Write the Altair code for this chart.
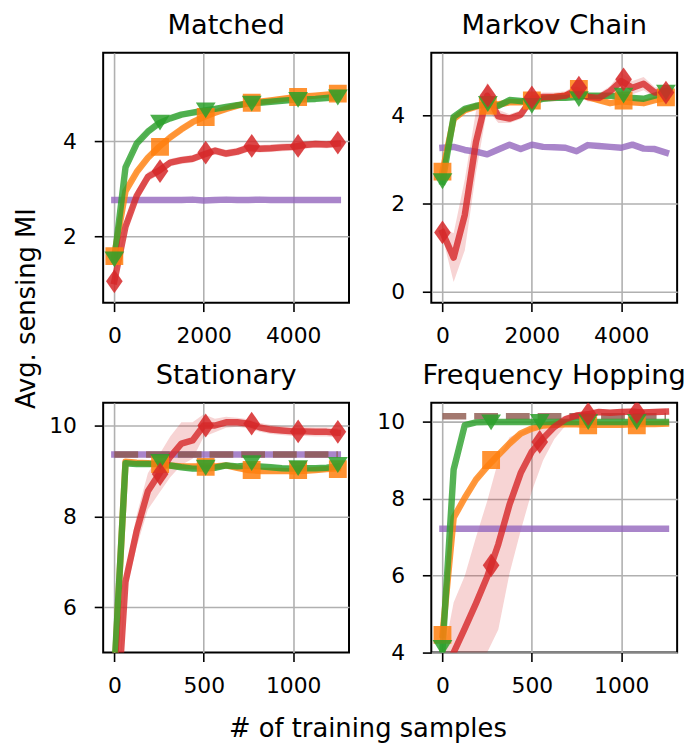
import altair as alt
import pandas as pd

FONT = "DejaVu Sans"
ORANGE = "#ff7f0e"
GREEN = "#2ca02c"
RED = "#d62728"
PURPLE = "#9467bd"
BROWN = "#8c564b"

Y_LABEL = "Avg. sensing MI"
X_LABEL = "# of training samples"
TITLES = ["Matched", "Markov Chain", "Stationary", "Frequency Hopping"]

# ---------------- x samples ----------------
X_TOP = [0, 250, 500, 750, 1000, 1250, 1500, 1750, 2000, 2250, 2500,
         2750, 3000, 3250, 3500, 3750, 4000, 4250, 4500, 4750, 5000]
X_BOT = [0, 62.5, 125, 187.5, 250, 312.5, 375, 437.5, 500, 562.5, 625,
         687.5, 750, 812.5, 875, 937.5, 1000, 1062.5, 1125, 1187.5, 1250]

# ---------------- Matched ----------------
M_ORANGE = [1.60, 2.95, 3.35, 3.65, 3.88, 4.08, 4.25, 4.40, 4.51, 4.60, 4.68,
            4.75, 4.80, 4.83, 4.86, 4.89, 4.92, 4.94, 4.96, 4.98, 5.00]
M_GREEN = [1.50, 3.45, 3.95, 4.20, 4.38, 4.48, 4.56, 4.60, 4.64, 4.68, 4.72,
           4.76, 4.79, 4.81, 4.83, 4.85, 4.87, 4.88, 4.89, 4.91, 4.93]
M_RED = [1.05, 2.20, 2.85, 3.25, 3.38, 3.55, 3.60, 3.63, 3.72, 3.80, 3.74,
         3.78, 3.86, 3.84, 3.85, 3.87, 3.88, 3.92, 3.94, 3.93, 3.95]
M_RED_HALF = [0.05, 0.12, 0.12, 0.10, 0.08, 0.08, 0.08, 0.08, 0.08, 0.08, 0.08,
              0.08, 0.08, 0.08, 0.08, 0.08, 0.08, 0.08, 0.08, 0.08, 0.08]
M_PURPLE = [2.76, 2.76, 2.76, 2.76, 2.76, 2.76, 2.76, 2.77, 2.75, 2.76, 2.77,
            2.76, 2.76, 2.77, 2.76, 2.76, 2.76, 2.76, 2.76, 2.76, 2.76]
M_MK_X = [0, 1022, 2044, 3074, 4111, 5000]
M_MK_ORANGE = [1.58, 3.88, 4.51, 4.81, 4.93, 5.00]
M_MK_GREEN = [1.51, 4.39, 4.65, 4.79, 4.87, 4.92]
M_MK_RED = [1.05, 3.37, 3.76, 3.90, 3.90, 3.97]

# ---------------- Markov Chain ----------------
MC_ORANGE = [2.72, 3.92, 4.12, 4.20, 4.28, 4.25, 4.30, 4.30, 4.35, 4.40, 4.42,
             4.45, 4.52, 4.42, 4.35, 4.28, 4.32, 4.30, 4.28, 4.35, 4.40]
MC_GREEN = [2.50, 3.97, 4.15, 4.22, 4.25, 4.22, 4.35, 4.33, 4.30, 4.38, 4.40,
            4.40, 4.42, 4.45, 4.45, 4.45, 4.42, 4.40, 4.38, 4.45, 4.55]
MC_RED = [1.35, 0.78, 1.75, 3.40, 4.45, 3.98, 3.93, 4.02, 4.38, 4.42, 4.42,
          4.45, 4.58, 4.42, 4.40, 4.55, 4.78, 4.63, 4.72, 4.52, 4.52]
MC_RED_HALF = [0.10, 0.55, 0.80, 0.70, 0.30, 0.15, 0.10, 0.10, 0.10, 0.10, 0.10,
               0.10, 0.12, 0.10, 0.10, 0.12, 0.20, 0.15, 0.15, 0.12, 0.10]
MC_PURPLE = [3.27, 3.29, 3.22, 3.18, 3.12, 3.23, 3.34, 3.24, 3.34, 3.29, 3.28,
             3.27, 3.19, 3.33, 3.31, 3.29, 3.27, 3.34, 3.25, 3.24, 3.16]
MC_MK_X = [0, 1015, 2000, 3052, 4052, 5000]
MC_MK_ORANGE = [2.73, 4.22, 4.34, 4.60, 4.34, 4.41]
MC_MK_GREEN = [2.51, 4.26, 4.22, 4.37, 4.45, 4.52]
MC_MK_RED = [1.35, 4.45, 4.41, 4.63, 4.82, 4.52]

# ---------------- Stationary ----------------
S_ORANGE = [4.50, 9.20, 9.18, 9.17, 9.15, 9.12, 9.10, 9.10, 9.10, 9.10, 9.12,
            9.07, 9.02, 9.00, 9.00, 9.00, 8.99, 9.00, 9.02, 9.04, 9.06]
S_GREEN = [4.60, 9.17, 9.15, 9.15, 9.15, 9.12, 9.08, 9.05, 9.05, 9.07, 9.12,
           9.10, 9.12, 9.10, 9.08, 9.06, 9.05, 9.06, 9.06, 9.07, 9.10]
S_RED = [2.70, 6.56, 7.68, 8.55, 8.93, 9.31, 9.60, 9.67, 10.00, 10.00, 10.07,
         10.07, 10.04, 9.96, 9.91, 9.89, 9.87, 9.87, 9.86, 9.86, 9.84]
S_RED_HALF = [0.20, 0.25, 0.35, 0.40, 0.42, 0.45, 0.47, 0.40, 0.25, 0.15, 0.12,
              0.10, 0.10, 0.10, 0.10, 0.10, 0.10, 0.10, 0.10, 0.10, 0.10]
S_PURPLE = [9.36] * 21
S_BROWN = [9.36] * 21
S_MK_X = [256, 511, 768, 1028, 1250]
S_MK_ORANGE = [9.15, 9.09, 9.02, 9.02, 9.04]
S_MK_GREEN = [9.20, 9.07, 9.17, 9.06, 9.13]
S_MK_RED = [8.93, 10.00, 10.04, 9.87, 9.86]

# ---------------- Frequency Hopping ----------------
F_ORANGE = [4.46, 7.51, 8.03, 8.50, 8.84, 9.14, 9.44, 9.70, 9.83, 9.91, 9.93,
            9.94, 9.94, 9.93, 9.93, 9.93, 9.93, 9.94, 9.95, 9.95, 9.96]
F_GREEN = [4.08, 8.76, 9.92, 9.99, 10.00, 10.00, 10.00, 10.00, 10.00, 10.00, 10.00,
           10.00, 10.00, 10.00, 10.00, 10.00, 10.00, 10.00, 10.00, 10.00, 10.00]
F_RED = [3.30, 4.00, 4.63, 5.28, 5.97, 6.82, 7.85, 8.67, 9.23, 9.57, 9.87,
         10.07, 10.17, 10.20, 10.26, 10.24, 10.26, 10.27, 10.25, 10.26, 10.27]
F_RED_LO = [2.80, 3.00, 3.30, 3.60, 4.00, 4.60, 6.06, 7.17, 8.20, 9.00, 9.55,
            9.90, 10.05, 10.12, 10.18, 10.16, 10.18, 10.19, 10.17, 10.18, 10.19]
F_RED_HI = [3.80, 5.30, 6.00, 7.00, 7.94, 9.00, 9.60, 9.74, 9.87, 9.95, 10.05,
            10.17, 10.25, 10.28, 10.34, 10.32, 10.34, 10.35, 10.33, 10.34, 10.35]
F_PURPLE = [7.22] * 21
F_BROWN = [10.15] * 21
F_MK_X_ORANGE = [0, 272, 815, 1087]
F_MK_ORANGE = [4.46, 9.01, 9.91, 9.91]
F_MK_X_GREEN = [0, 272, 544, 815, 1087]
F_MK_GREEN = [4.12, 9.99, 10.00, 10.00, 10.00]
F_MK_X_RED = [272, 544, 815, 1087]
F_MK_RED = [6.27, 9.48, 10.21, 10.26]

SMALL_HALF = [0.06] * 21

DIAMOND = "M0,-1L0.7,0L0,1L-0.7,0Z"
TRI_DOWN = "M-1,-0.8L1,-0.8L0,0.8Z"
PANEL_W = 248
PANEL_H = 252


def line_df(xs, ys):
    return pd.DataFrame({"x": xs, "y": ys})


def band_df(xs, ys, half):
    return pd.DataFrame({"x": xs,
                         "lo": [a - b for a, b in zip(ys, half)],
                         "hi": [a + b for a, b in zip(ys, half)]})


def text_layer(label, x, y, size, angle=0, baseline="alphabetic"):
    kw = dict(align="center", baseline=baseline, fontSize=size, font=FONT,
              color="black")
    if angle:
        kw["angle"] = angle
    return alt.Chart(pd.DataFrame({"t": [label]})).mark_text(**kw).encode(
        text="t:N", x=alt.value(x), y=alt.value(y))


AXIS_COMMON = dict(format="d", title=None, labelFont=FONT, labelFontSize=22,
                   labelColor="black", tickColor="black", tickSize=9,
                   tickWidth=1.6, grid=True, gridColor="#b0b0b0",
                   gridWidth=1.6, gridOpacity=1, domain=False)


def panel(title, xdom, xticks, ydom, yticks, bands, lines, markers, texts=()):
    xsc = alt.Scale(domain=xdom, nice=False, zero=False)
    ysc = alt.Scale(domain=ydom, nice=False, zero=False)
    xax = alt.Axis(values=xticks, labelPadding=14, **AXIS_COMMON)
    yax = alt.Axis(values=yticks, labelPadding=18, labelAlign="right",
                   labelBaseline="middle", **AXIS_COMMON)
    X = alt.X("x:Q", scale=xsc, axis=xax)
    layers = []
    for color, df, op in bands:
        layers.append(
            alt.Chart(df).mark_area(color=color, opacity=op, clip=True).encode(
                x=X, y=alt.Y("lo:Q", scale=ysc, axis=yax), y2="hi:Q"))
    for color, df, dash in lines:
        kw = dict(color=color, strokeWidth=6.5, opacity=0.8, strokeJoin="round",
                  clip=True)
        if dash:
            kw.update(strokeDash=[24, 8], strokeCap="butt")
        else:
            kw.update(strokeCap="square")
        layers.append(alt.Chart(df).mark_line(**kw).encode(
            x=X, y=alt.Y("y:Q", scale=ysc, axis=yax)))
    for color, df, shape, size in markers:
        layers.append(alt.Chart(df).mark_point(
            shape=shape, size=size, filled=True, color=color, opacity=0.85,
            strokeWidth=0, clip=True).encode(
                x=X, y=alt.Y("y:Q", scale=ysc, axis=yax)))
    layers.append(text_layer(title, PANEL_W / 2, -19, 27.5))
    for t in texts:
        layers.append(t)
    return alt.layer(*layers).properties(width=PANEL_W, height=PANEL_H)


ylab = text_layer(Y_LABEL, -90, 258, 26, angle=270, baseline="top")
xlab = text_layer(X_LABEL, 267, 337, 26)

p1 = panel(
    TITLES[0], [-250, 5250], [0, 2000, 4000], [0.6, 5.86], [2, 4],
    bands=[(ORANGE, band_df(X_TOP, M_ORANGE, SMALL_HALF), 0.2),
           (GREEN, band_df(X_TOP, M_GREEN, SMALL_HALF), 0.2),
           (RED, band_df(X_TOP, M_RED, M_RED_HALF), 0.2)],
    lines=[(PURPLE, line_df(X_TOP, M_PURPLE), False),
           (ORANGE, line_df(X_TOP, M_ORANGE), False),
           (GREEN, line_df(X_TOP, M_GREEN), False),
           (RED, line_df(X_TOP, M_RED), False)],
    markers=[(ORANGE, line_df(M_MK_X, M_MK_ORANGE), "square", 324),
             (GREEN, line_df(M_MK_X, M_MK_GREEN), TRI_DOWN, 400),
             (RED, line_df(M_MK_X, M_MK_RED), DIAMOND, 576)],
    texts=[ylab])

p2 = panel(
    TITLES[1], [-250, 5250], [0, 2000, 4000], [-0.24, 5.42], [0, 2, 4],
    bands=[(ORANGE, band_df(X_TOP, MC_ORANGE, SMALL_HALF), 0.2),
           (GREEN, band_df(X_TOP, MC_GREEN, SMALL_HALF), 0.2),
           (RED, band_df(X_TOP, MC_RED, MC_RED_HALF), 0.2)],
    lines=[(PURPLE, line_df(X_TOP, MC_PURPLE), False),
           (ORANGE, line_df(X_TOP, MC_ORANGE), False),
           (GREEN, line_df(X_TOP, MC_GREEN), False),
           (RED, line_df(X_TOP, MC_RED), False)],
    markers=[(ORANGE, line_df(MC_MK_X, MC_MK_ORANGE), "square", 324),
             (GREEN, line_df(MC_MK_X, MC_MK_GREEN), TRI_DOWN, 400),
             (RED, line_df(MC_MK_X, MC_MK_RED), DIAMOND, 576)])

p3 = panel(
    TITLES[2], [-62.5, 1312.5], [0, 500, 1000], [5.0, 10.5], [6, 8, 10],
    bands=[(ORANGE, band_df(X_BOT, S_ORANGE, SMALL_HALF), 0.2),
           (GREEN, band_df(X_BOT, S_GREEN, SMALL_HALF), 0.2),
           (RED, band_df(X_BOT, S_RED, S_RED_HALF), 0.2)],
    lines=[(PURPLE, line_df(X_BOT, S_PURPLE), False),
           (BROWN, line_df(X_BOT, S_BROWN), True),
           (ORANGE, line_df(X_BOT, S_ORANGE), False),
           (GREEN, line_df(X_BOT, S_GREEN), False),
           (RED, line_df(X_BOT, S_RED), False)],
    markers=[(ORANGE, line_df(S_MK_X, S_MK_ORANGE), "square", 324),
             (GREEN, line_df(S_MK_X, S_MK_GREEN), TRI_DOWN, 400),
             (RED, line_df(S_MK_X, S_MK_RED), DIAMOND, 576)],
    texts=[xlab])

p4 = panel(
    TITLES[3], [-62.5, 1312.5], [0, 500, 1000], [4.0, 10.5], [4, 6, 8, 10],
    bands=[(ORANGE, band_df(X_BOT, F_ORANGE, SMALL_HALF), 0.2),
           (GREEN, band_df(X_BOT, F_GREEN, SMALL_HALF), 0.2),
           (RED, pd.DataFrame({"x": X_BOT, "lo": F_RED_LO, "hi": F_RED_HI}), 0.2)],
    lines=[(PURPLE, line_df(X_BOT, F_PURPLE), False),
           (BROWN, line_df(X_BOT, F_BROWN), True),
           (ORANGE, line_df(X_BOT, F_ORANGE), False),
           (GREEN, line_df(X_BOT, F_GREEN), False),
           (RED, line_df(X_BOT, F_RED), False)],
    markers=[(ORANGE, line_df(F_MK_X_ORANGE, F_MK_ORANGE), "square", 324),
             (GREEN, line_df(F_MK_X_GREEN, F_MK_GREEN), TRI_DOWN, 400),
             (RED, line_df(F_MK_X_RED, F_MK_RED), DIAMOND, 576)])

chart = alt.concat(
    p1, p2, p3, p4, columns=2, spacing={"row": 101, "column": 83},
    bounds="flush", padding={"left": 5, "top": 0, "right": 5, "bottom": 0},
    background="white",
).configure_view(stroke="black", strokeWidth=2)

chart.save("out.html", embed_options={"renderer": "svg", "actions": False})
